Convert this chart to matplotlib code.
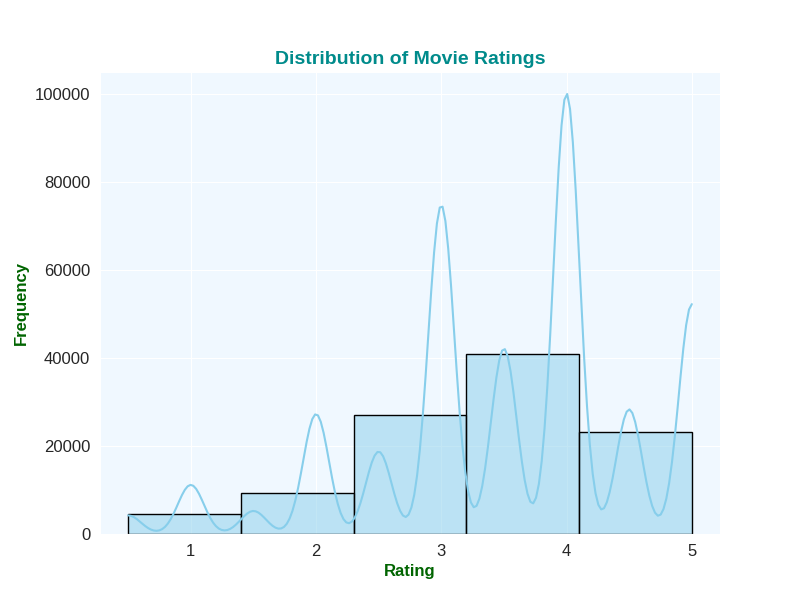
"""Distribution of movie ratings: histogram with KDE
"""

import numpy as np
import pandas as pd
import matplotlib
matplotlib.use("Agg")
import matplotlib.pyplot as plt
import seaborn as sns

# rating values and how many times each one occurs
rating_values = [0.5, 1.0, 1.5, 2.0, 2.5, 3.0, 3.5, 4.0, 4.5, 5.0]
rating_counts = [1220, 3220, 1510, 7860, 5400, 21560, 12150, 28880, 8170, 15070]

ratings = pd.DataFrame({"rating": np.repeat(rating_values, rating_counts)})

sns.set_style("darkgrid", {"axes.facecolor": "aliceblue"})
plt.rcParams["font.family"] = ["Liberation Sans", "DejaVu Sans"]

fig, ax = plt.subplots(figsize=(8, 6), dpi=100)
sns.histplot(data=ratings, x="rating", bins=5, kde=True, color="skyblue",
             edgecolor="black", ax=ax)

ax.set_title("Distribution of Movie Ratings", fontsize=14, fontweight="bold",
             color="darkcyan")
ax.set_xlabel("Rating", fontsize=12, fontweight="bold", color="darkgreen")
ax.set_ylabel("Frequency", fontsize=12, fontweight="bold", color="darkgreen")
ax.tick_params(labelsize=12)

fig.savefig("out.png")
